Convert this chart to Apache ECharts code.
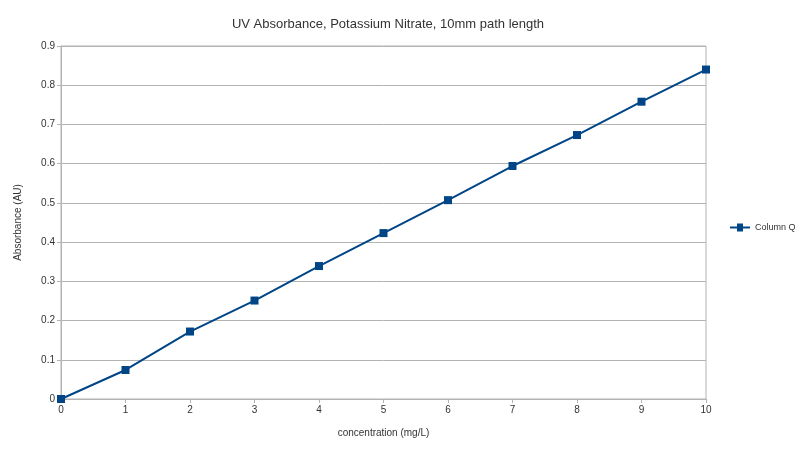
<!DOCTYPE html>
<html>
<head>
<meta charset="utf-8" />
<title>UV Absorbance</title>
<script src="https://cdn.jsdelivr.net/npm/echarts@6/dist/echarts.min.js"></script>
<style>
html, body { margin: 0; padding: 0; background: #fff; }
#chart { width: 800px; height: 450px; }
</style>
</head>
<body>
<div id="chart"></div>
<script>
// concentration (mg/L) vs absorbance
var concentration = [0, 1, 2, 3, 4, 5, 6, 7, 8, 9, 10];
var absorbance = [0, 0.074, 0.172, 0.251, 0.339, 0.423, 0.507, 0.594, 0.673, 0.758, 0.840];
var seriesName = 'Column Q';

var points = [];
for (var i = 0; i < concentration.length; i++) {
	points.push([concentration[i], absorbance[i]]);
}

var axisGray = '#b3b3b3';
var textCol = '#333333';
var font = 'Liberation Sans, Arial, sans-serif';

var chart = echarts.init(document.getElementById('chart'));
chart.setOption({
	animation: false,
	textStyle: { fontFamily: font },
	title: {
		text: 'UV Absorbance, Potassium Nitrate, 10mm path length',
		left: 383,
		textAlign: 'center',
		top: 13,
		textStyle: { fontSize: 13, fontWeight: 'normal', color: textCol, fontFamily: font }
	},
	legend: {
		orient: 'vertical',
		left: 725,
		top: 218,
		itemWidth: 20,
		itemHeight: 8,
		itemGap: 4,
		icon: 'path://M0,3 L7,3 L7,0 L13,0 L13,3 L20,3 L20,5 L13,5 L13,8 L7,8 L7,5 L0,5 Z',
		textStyle: { fontSize: 9, color: textCol, fontFamily: font },
		data: [seriesName]
	},
	grid: {
		left: 61, right: 94, top: 46, bottom: 51,
		show: true,
		borderColor: axisGray,
		borderWidth: 1
	},
	xAxis: {
		type: 'value',
		min: 0, max: 10, interval: 1,
		name: 'concentration (mg/L)',
		nameLocation: 'middle',
		nameGap: 29,
		nameTextStyle: { fontSize: 10, color: textCol },
		axisLine: { show: true, lineStyle: { color: axisGray } },
		axisTick: { show: true, inside: false, length: 4, lineStyle: { color: axisGray } },
		axisLabel: { fontSize: 10, color: textCol, margin: 6 },
		splitLine: { show: false }
	},
	yAxis: {
		type: 'value',
		min: 0, max: 0.9, interval: 0.1,
		name: 'Absorbance (AU)',
		nameLocation: 'middle',
		nameGap: 38,
		nameTextStyle: { fontSize: 10, color: textCol },
		axisLine: { show: true, lineStyle: { color: axisGray } },
		axisTick: { show: true, length: 4, lineStyle: { color: axisGray } },
		axisLabel: { fontSize: 10, color: textCol, margin: 6 },
		splitLine: { show: true, lineStyle: { color: axisGray, width: 1 } }
	},
	series: [{
		name: seriesName,
		type: 'line',
		data: points,
		symbol: 'rect',
		symbolSize: 8,
		showAllSymbol: true,
		itemStyle: { color: '#004586' },
		lineStyle: { color: '#004586', width: 2 }
	}]
});
</script>
</body>
</html>
